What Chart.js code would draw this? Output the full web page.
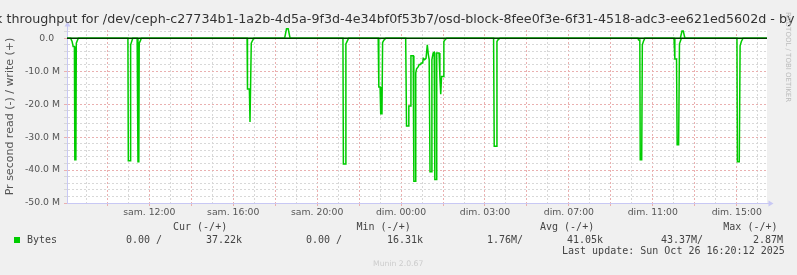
<!DOCTYPE html>
<html><head><meta charset="utf-8">
<script src="https://cdn.jsdelivr.net/npm/chart.js@4"></script>
<style>
html,body{margin:0;padding:0;background:#f0f0f0;overflow:hidden;}
#wrap{position:relative;width:797px;height:275px;overflow:hidden;background:#f0f0f0;}
canvas{position:absolute;left:0;top:0;}
.t{position:absolute;white-space:pre;line-height:12px;}
.mono{font-family:'DejaVu Sans Mono',monospace;font-size:10px;color:#444;}
</style></head><body>
<div id="wrap">
<canvas id="c" width="797" height="275"></canvas>
<div id="title" class="t" style="left:398.5px;top:12.5px;transform:translateX(-50%);font-family:'DejaVu Sans';font-size:12.7px;color:#333;">Disk throughput for /dev/ceph-c27734b1-1a2b-4d5a-9f3d-4e34bf0f53b7/osd-block-8fee0f3e-6f31-4518-adc3-ee621ed5602d - by day</div>
<div class="t" style="left:784px;top:12px;writing-mode:vertical-rl;font-family:'DejaVu Sans';font-size:7px;line-height:8px;color:#bbb;">RRDTOOL / TOBI OETIKER</div>
<div id="legend"></div>
<div class="t" style="left:373px;top:259px;font-family:'DejaVu Sans';font-size:7.7px;line-height:10px;color:#ccc;">Munin 2.0.67</div>
</div>
<script>
// ---- data ----
// time in hours relative to "sam. 12:00" (local), values in millions of bytes per second
const xLabels = ['sam. 12:00','sam. 16:00','sam. 20:00','dim. 00:00','dim. 03:00','dim. 07:00','dim. 11:00','dim. 15:00'];
const xLabelHours = [0,4,8,12,16,20,24,28];
const yLabelValues = [0,-10,-20,-30,-40,-50];

const readHours = [-3.92,
 -3.75,-3.68,-3.63,-3.57,-3.55,-3.50,-3.48,-3.43,-3.38,
 -1.02,-1.00,-0.91,-0.89,-0.84,-0.79,
 -0.58,-0.54,-0.50,-0.48,-0.43,-0.38,
 4.66,4.68,4.77,4.80,4.86,4.92,4.98,
 9.23,9.25,9.33,9.37,9.44,9.50,
 10.91,10.94,11.00,11.03,11.09,11.12,11.18,11.27,
 12.22,12.26,12.35,12.37,12.44,12.47,12.58,12.61,12.68,12.70,12.74,12.82,12.86,12.93,12.96,13.03,13.06,13.12,13.19,13.25,13.30,13.34,13.38,13.45,13.47,13.53,13.58,13.61,13.68,13.70,13.81,13.85,13.89,13.93,14.01,14.04,14.09,14.17,
 16.41,16.44,16.53,16.57,16.63,16.72,
 23.29,23.32,23.38,23.40,23.47,23.50,23.55,23.62,
 25.01,25.05,25.13,25.16,25.23,25.27,25.32,25.36,
 28.01,28.03,28.12,28.16,28.22,28.30,
 29.44];
const readValues = [0,
 0,-1.0,-2.5,-2.5,-36.9,-36.9,-1.5,-0.7,0,
 0,-37.2,-37.2,-2.0,-1.0,0,
 0,-37.5,-37.5,-1.5,-0.8,0,
 0,-15.4,-15.4,-25.4,-1.5,-0.7,0,
 0,-38.2,-38.2,-1.7,-0.8,0,
 0,-14.8,-14.8,-22.9,-22.9,-1.3,-0.6,0,
 0,-26.6,-26.6,-20.6,-20.6,-5.3,-5.3,-43.4,-43.4,-10.5,-9.3,-8.6,-8.0,-8.0,-7.5,-7.5,-6.1,-6.5,-6.1,-2.0,-5.0,-6.5,-40.5,-40.5,-6.5,-4.5,-4.3,-42.9,-42.9,-4.5,-4.5,-11.6,-17.0,-11.6,-11.6,-1.0,-0.5,0,
 0,-32.8,-32.8,-1.0,-0.4,0,
 0,-0.5,-0.5,-36.9,-36.9,-2.0,-1.0,0,
 0,-6.3,-6.3,-32.3,-32.3,-1.7,-0.8,0,
 0,-37.5,-37.5,-2.3,-1.0,0,
 0];
const writeHours = [-3.92,6.45,6.54,6.62,6.71,25.31,25.39,25.45,25.53,29.44];
const writeValues = [0,0,2.87,2.87,0,0,2.2,2.2,0,0];

const legendHeaders = ['Cur (-/+)','Min (-/+)','Avg (-/+)','Max (-/+)'];
const legendSeries = 'Bytes';
const legendValues = ['0.00 /','37.22k','0.00 /','16.31k','1.76M/','41.05k','43.37M/','2.87M'];
const lastUpdate = 'Last update: Sun Oct 26 16:20:12 2025';

const X_MIN = -3.923, X_MAX = 29.442, Y_MIN = -50, Y_MAX = 2.5;

// ---- legend (HTML text) ----
(function(){
  const L = document.getElementById('legend');
  const hdrX = [173,356.5,540,723.3];
  const valX = [126,206,306,387,487,567,661,753];
  let h = '';
  legendHeaders.forEach((t,i)=>{ h += `<div class="t mono" style="left:${hdrX[i]}px;top:221px">${t}</div>`; });
  h += `<div style="position:absolute;left:14px;top:237px;width:6px;height:6px;background:#00cc00"></div>`;
  h += `<div class="t mono" style="left:27px;top:234px">${legendSeries}</div>`;
  legendValues.forEach((t,i)=>{ h += `<div class="t mono" style="left:${valX[i]}px;top:234px">${t}</div>`; });
  h += `<div class="t mono" style="left:562px;top:245px">${lastUpdate}</div>`;
  L.innerHTML = h;
})();

// ---- chart ----
const hourTicks = []; for (let v = -3; v <= 29; v++) hourTicks.push(v);
const yTicks = []; for (let v = -50; v <= 2; v += 2) yTicks.push(v);
const RED = '#eab0b0', GRAY = '#d8d8d8', AXIS = '#c8c8f4';

const bgPlugin = {
  id:'bg',
  beforeDraw(chart){
    const {ctx, chartArea:a} = chart;
    ctx.save(); ctx.fillStyle = '#ffffff';
    ctx.fillRect(a.left, a.top, a.right - a.left, a.bottom - a.top);
    ctx.restore();
  },
  afterDraw(chart){
    const {ctx, chartArea:a} = chart;
    ctx.save(); ctx.fillStyle = AXIS; ctx.strokeStyle = AXIS; ctx.lineWidth = 1;
    const lx = Math.round(a.left) + 0.5, by = Math.round(a.bottom) + 0.5;
    ctx.beginPath(); ctx.moveTo(lx, a.top); ctx.lineTo(lx, a.top - 4); ctx.stroke();
    ctx.beginPath(); ctx.moveTo(lx - 3, a.top - 3.5); ctx.lineTo(lx + 3, a.top - 3.5); ctx.lineTo(lx, a.top - 8.5); ctx.closePath(); ctx.fill();
    ctx.beginPath(); ctx.moveTo(a.right, by); ctx.lineTo(a.right + 2, by); ctx.stroke();
    ctx.beginPath(); ctx.moveTo(a.right + 1.5, by - 3); ctx.lineTo(a.right + 1.5, by + 3); ctx.lineTo(a.right + 6.5, by); ctx.closePath(); ctx.fill();
    ctx.restore();
  }
};

const tickFont = {family:'DejaVu Sans', size:9.3};
new Chart(document.getElementById('c'), {
  type:'line',
  data:{datasets:[
    {label:'zero', data:[{x:X_MIN,y:0},{x:X_MAX,y:0}], borderColor:'#000000', borderWidth:1, pointRadius:0, order:0},
    {label:'read', data:readHours.map((h,i)=>({x:h,y:readValues[i]})), borderColor:'#00cc00', borderWidth:1.5, pointRadius:0, order:1, tension:0},
    {label:'write', data:writeHours.map((h,i)=>({x:h,y:writeValues[i]})), borderColor:'#00cc00', borderWidth:1.5, pointRadius:0, order:1, tension:0, clip:false}
  ]},
  options:{
    responsive:false, animation:false, devicePixelRatio:1,
    layout:{padding:{left:0, top:30, right:30, bottom:0}},
    plugins:{legend:{display:false}, tooltip:{enabled:false}, title:{display:false}},
    scales:{
      x:{
        type:'linear', min:X_MIN, max:X_MAX,
        afterBuildTicks(s){ s.ticks = hourTicks.map(v=>({value:v})); },
        afterFit(s){ s.height = 72; },
        ticks:{autoSkip:false, maxRotation:0, minRotation:0, padding:1, color:'#555', font:tickFont,
          callback(v){ const i = xLabelHours.indexOf(v); return i >= 0 ? xLabels[i] : ''; }},
        grid:{lineWidth:1, drawTicks:true, tickLength:3,
          color(c){ return Math.abs(c.tick.value % 2) < 1e-9 ? RED : GRAY; },
          tickColor(c){ return Math.abs(c.tick.value % 2) < 1e-9 ? RED : 'rgba(0,0,0,0)'; }},
        border:{display:true, color:AXIS, width:1, dash:[2,2]}
      },
      y:{
        type:'linear', min:Y_MIN, max:Y_MAX,
        afterBuildTicks(s){ s.ticks = yTicks.map(v=>({value:v})); },
        afterFit(s){ s.width = 67; },
        ticks:{autoSkip:false, padding:4, color:'#555', font:tickFont,
          callback(v){ if (yLabelValues.indexOf(v) < 0) return ''; return v === 0 ? '0.0  ' : v.toFixed(1) + ' M'; }},
        grid:{lineWidth:1, drawTicks:true, tickLength:3,
          color(c){ return c.tick.value % 10 === 0 ? RED : GRAY; },
          tickColor(c){ return c.tick.value % 10 === 0 ? RED : GRAY; }},
        border:{display:true, color:AXIS, width:1, dash:[2,2]},
        title:{display:true, text:'Pr second read (-) / write (+)', color:'#555', font:{family:'DejaVu Sans', size:11}, padding:{top:4,bottom:0}}
      }
    }
  },
  plugins:[bgPlugin]
});
</script>
</body></html>
